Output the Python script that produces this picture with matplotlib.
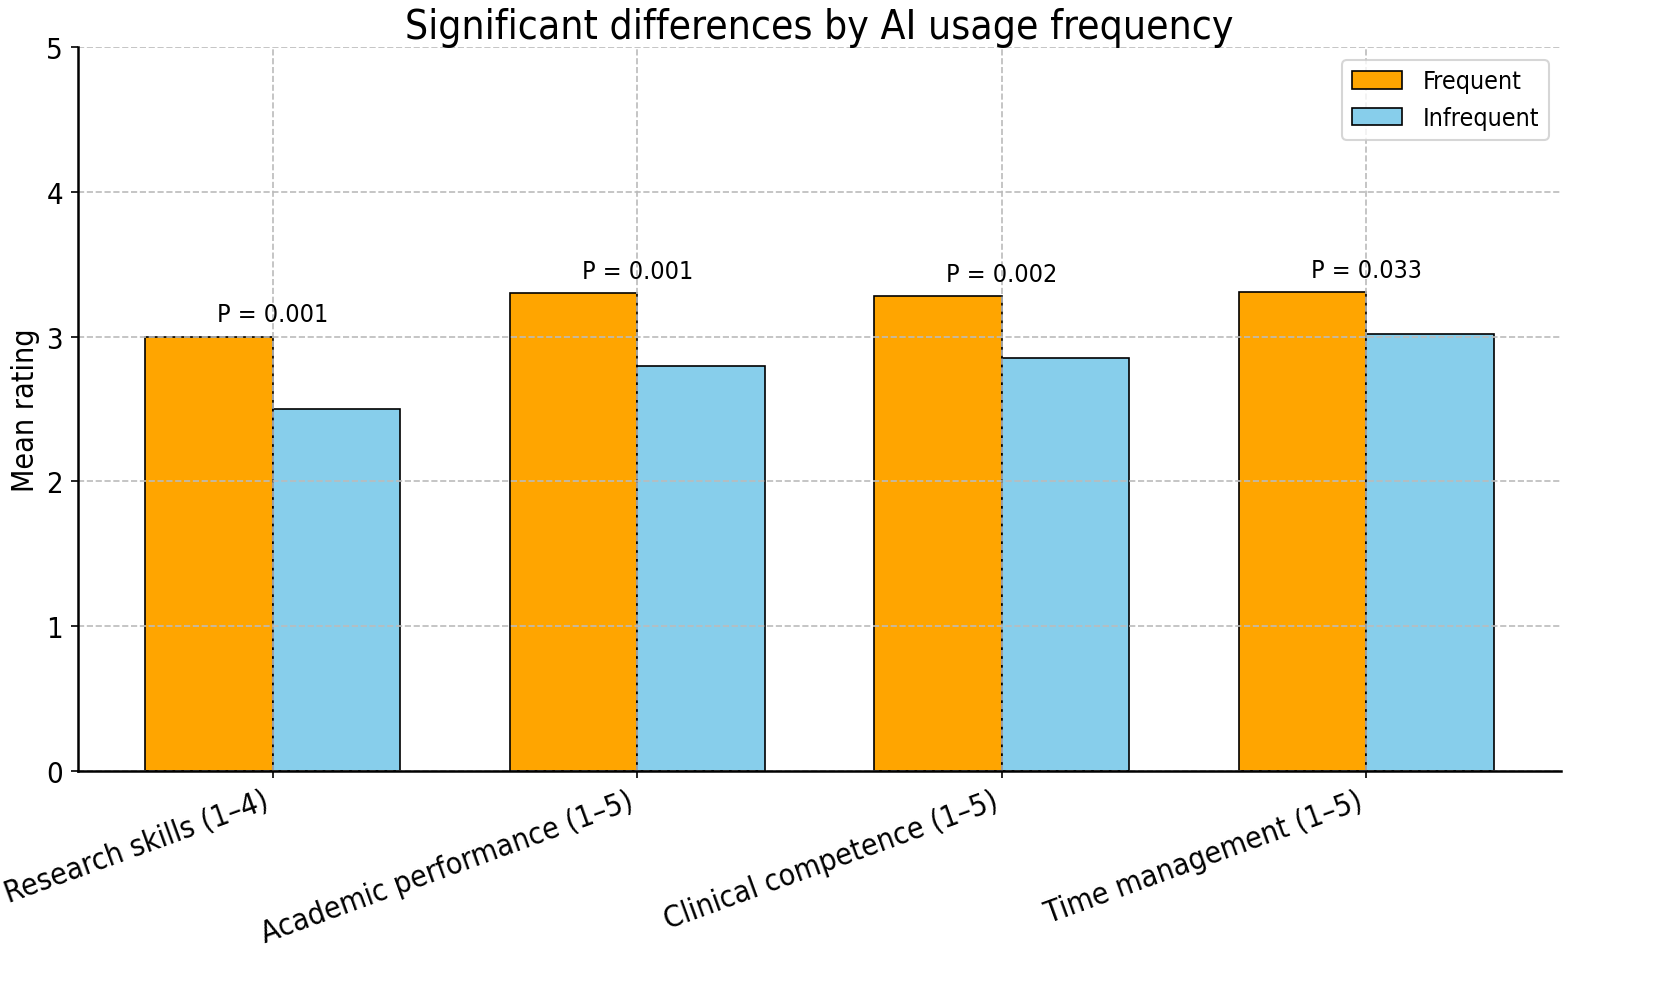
import numpy as np
import matplotlib
matplotlib.use("Agg")
import matplotlib.pyplot as plt
from matplotlib import font_manager

# ── Data ──────────────────────────────────────────────────────────────────────
categories = [
    "Research skills (1–4)",
    "Academic performance (1–5)",
    "Clinical competence (1–5)",
    "Time management (1–5)",
]
frequent = [3.00, 3.30, 3.28, 3.31]
infrequent = [2.50, 2.80, 2.85, 3.02]
p_values = ["P = 0.001", "P = 0.001", "P = 0.002", "P = 0.033"]

# reference text looks slightly narrow, use the condensed cut if it is there
path = font_manager.findfont(font_manager.FontProperties(family="DejaVu Sans", stretch="condensed"))
condensed = "Condensed" in path
if condensed:
    plt.rcParams["font.stretch"] = "condensed"
    sz = dict(title=19.5, xtick=14.5, ytick=14, p=12, legend=12, ylabel=14.5)
else:
    sz = dict(title=17.5, xtick=13, ytick=14, p=11, legend=11, ylabel=13)

# ── Plot ──────────────────────────────────────────────────────────────────────
x = np.arange(len(categories))
width = 0.35

fig, ax = plt.subplots(figsize=(11.027, 6.593), dpi=150)
fig.subplots_adjust(left=0.047, right=0.944, top=0.9515, bottom=0.2194)

ax.bar(x - width / 2, frequent, width, label="Frequent",
       color="orange", edgecolor="black", linewidth=0.8)
ax.bar(x + width / 2, infrequent, width, label="Infrequent",
       color="skyblue", edgecolor="black", linewidth=0.8)

for i, p in enumerate(p_values):
    top = max(frequent[i], infrequent[i])
    ax.text(x[i], top + 0.07, p, ha="center", va="bottom", fontsize=sz["p"])

ax.set_ylim(0, 5)
ax.set_xticks(x)
ax.set_xticklabels(categories, rotation=20, ha="right", fontsize=sz["xtick"])
ax.tick_params(axis="y", labelsize=sz["ytick"])
ax.set_ylabel("Mean rating", fontsize=sz["ylabel"], labelpad=3)
ax.set_title("Significant differences by AI usage frequency", fontsize=sz["title"], pad=4.5)
ax.legend(fontsize=sz["legend"], loc="upper right")
ax.grid(True, linestyle="--", color="#bbbbbb", linewidth=0.8)

for side in ("top", "right"):
    ax.spines[side].set_visible(False)
for side in ("left", "bottom"):
    ax.spines[side].set_linewidth(1.2)

plt.savefig("out.png", dpi=150)
